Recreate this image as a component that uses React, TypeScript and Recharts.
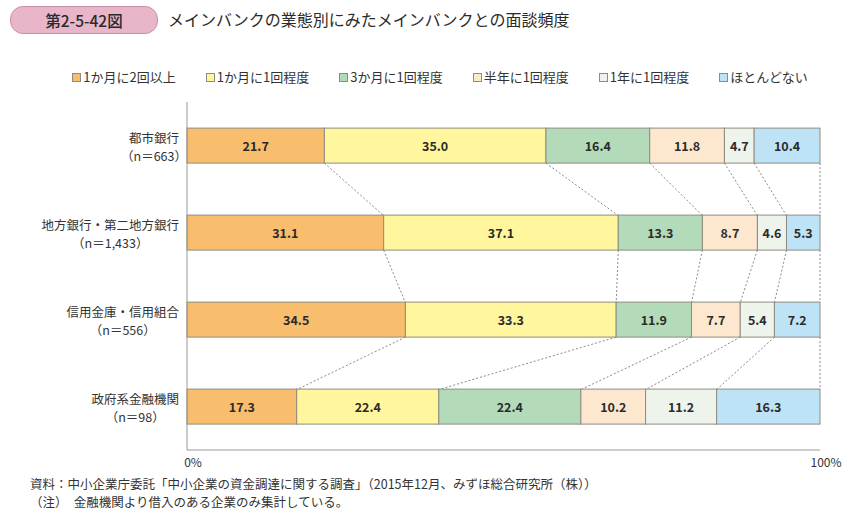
import { BarChart, Bar, XAxis, YAxis } from "recharts";

const categories = ["都市銀行", "地方銀行・第二地方銀行", "信用金庫・信用組合", "政府系金融機関"];
const sampleSizes = ["663", "1,433", "556", "98"];
const seriesNames = ["1か月に2回以上", "1か月に1回程度", "3か月に1回程度", "半年に1回程度", "1年に1回程度", "ほとんどない"];
const seriesColors = ["#F8BE6E", "#FFF69E", "#B3DBBA", "#FDE8CF", "#EEF3EC", "#BEE3F6"];

const monthlyTwicePlus = [21.7, 31.1, 34.5, 17.3];
const monthlyOnce = [35.0, 37.1, 33.3, 22.4];
const quarterlyOnce = [16.4, 13.3, 11.9, 22.4];
const halfYearOnce = [11.8, 8.7, 7.7, 10.2];
const yearlyOnce = [4.7, 4.6, 5.4, 11.2];
const rarely = [10.4, 5.3, 7.2, 16.3];

const seriesValues = [monthlyTwicePlus, monthlyOnce, quarterlyOnce, halfYearOnce, yearlyOnce, rarely];
const keys = seriesValues.map((_, k) => `s${k}`);

const rows = categories.map((name, i) => {
  const row: Record<string, string | number> = { name, n: sampleSizes[i] };
  seriesValues.forEach((vals, k) => {
    row[keys[k]] = vals[i];
  });
  return row;
});

const FONT = "'Noto Sans CJK JP', 'Noto Sans', sans-serif";
const BAND_FILL = 0.4; // bar height share of band (barCategoryGap 30%)

const total = (i: number) => seriesValues.reduce((s, v) => s + v[i], 0);
const cumTo = (i: number, k: number) => {
  let s = 0;
  for (let j = 0; j <= k; j++) s += seriesValues[j][i];
  return s / total(i);
};

function makeShape(k: number) {
  return (props: any) => {
    const { x, y, width, height, index } = props;
    const frac = seriesValues[k][index] / total(index);
    const ppu = frac > 0 ? width / frac : 0;
    const left = x - (cumTo(index, k) - frac) * ppu;
    const hasNext = index < categories.length - 1;
    const nextX = hasNext ? left + cumTo(index + 1, k) * ppu : 0;
    const step = height / BAND_FILL;
    return (
      <g>
        <rect x={x} y={y} width={width} height={height} fill={seriesColors[k]} stroke="#8e8c80" strokeWidth={1} />
        <text
          x={x + width / 2}
          y={y + height / 2}
          textAnchor="middle"
          dominantBaseline="central"
          fontSize={12.5}
          fontWeight={600}
          fill="#2b2b2b"
          fontFamily={FONT}
        >
          {seriesValues[k][index].toFixed(1)}
        </text>
        {hasNext ? (
          <line
            x1={x + width}
            y1={y + height}
            x2={nextX}
            y2={y + step}
            stroke="#8a8a8a"
            strokeWidth={1}
            strokeDasharray="2 2"
          />
        ) : null}
      </g>
    );
  };
}

const CategoryTick = (props: any) => {
  const { x, y, payload } = props;
  const i = categories.indexOf(payload.value);
  const w = payload.value.length * 12.5;
  const cx = x - w / 2;
  return (
    <g fontFamily={FONT} fontSize={12.5} fill="#333">
      <text x={cx} y={y - 8} textAnchor="middle" dominantBaseline="central" fill="#333">
        {payload.value}
      </text>
      <text x={cx} y={y + 10} textAnchor="middle" dominantBaseline="central" fill="#333">
        {`（n＝${sampleSizes[i]}）`}
      </text>
    </g>
  );
};

export default function App() {
  return (
    <div style={{ position: "absolute", left: 0, top: 0, width: 868, height: 514, background: "#fff", fontFamily: FONT, color: "#333" }}>
      <div
        style={{
          position: "absolute",
          left: 10,
          top: 6,
          width: 146,
          height: 26,
          borderRadius: 13,
          background: "#E9B6C9",
          border: "1px solid #C98FA8",
          textAlign: "center",
          lineHeight: "26px",
          fontSize: 15.5,
          fontWeight: 500,
          color: "#2a2a2a",
        }}
      >
        第2-5-42図
      </div>
      <div style={{ position: "absolute", left: 168, top: 7, fontSize: 16, lineHeight: "24px", color: "#2a2a2a" }}>
        メインバンクの業態別にみたメインバンクとの面談頻度
      </div>
      <div
        style={{
          position: "absolute",
          left: 0,
          top: 68,
          width: 880,
          display: "flex",
          justifyContent: "center",
          gap: 30,
          fontSize: 13,
          lineHeight: "18px",
        }}
      >
        {seriesNames.map((nm, k) => (
          <div key={nm} style={{ display: "flex", alignItems: "center" }}>
            <span
              style={{
                display: "inline-block",
                width: 7,
                height: 7,
                background: seriesColors[k],
                border: "1px solid #8e8c80",
                marginRight: 2,
              }}
            />
            {nm}
          </div>
        ))}
      </div>
      <div style={{ position: "absolute", left: 0, top: 0 }}>
        <BarChart
          width={868}
          height={514}
          data={rows}
          layout="vertical"
          stackOffset="expand"
          barCategoryGap="30%"
          margin={{ top: 102, right: 48, bottom: 34, left: 7 }}
        >
          <XAxis
            type="number"
            domain={[0, 1]}
            ticks={[0, 1]}
            tickFormatter={(v: number) => `${Math.round(v * 100)}%`}
            tickLine={false}
            axisLine={{ stroke: "#999" }}
            tick={{ fill: "#333", fontSize: 12, fontFamily: FONT, dx: 6 }}
            height={30}
          />
          <XAxis
            xAxisId="marks"
            type="number"
            domain={[0, 1]}
            ticks={[1]}
            mirror
            tick={false}
            axisLine={false}
            tickSize={5}
            tickLine={{ stroke: "#999" }}
            height={0}
          />
          <YAxis
            yAxisId="cat"
            type="category"
            dataKey="name"
            width={180}
            tickLine={false}
            axisLine={{ stroke: "#999" }}
            tick={<CategoryTick />}
            interval={0}
          />
          <YAxis
            yAxisId="marks"
            type="number"
            domain={[0, 4]}
            ticks={[0, 1, 2, 3]}
            reversed
            mirror
            width={0}
            tick={false}
            axisLine={false}
            tickSize={6}
            tickLine={{ stroke: "#999" }}
          />
          {keys.map((key, k) => (
            <Bar
              key={key}
              dataKey={key}
              stackId="a"
              yAxisId="cat"
              shape={makeShape(k)}
              isAnimationActive={false}
            />
          ))}
        </BarChart>
      </div>
      <div style={{ position: "absolute", left: 30, top: 475, fontSize: 12.5, lineHeight: "17.5px", color: "#333" }}>
        <div>資料：中小企業庁委託「中小企業の資金調達に関する調査」（2015年12月、みずほ総合研究所（株））</div>
        <div>（注）　金融機関より借入のある企業のみ集計している。</div>
      </div>
    </div>
  );
}
